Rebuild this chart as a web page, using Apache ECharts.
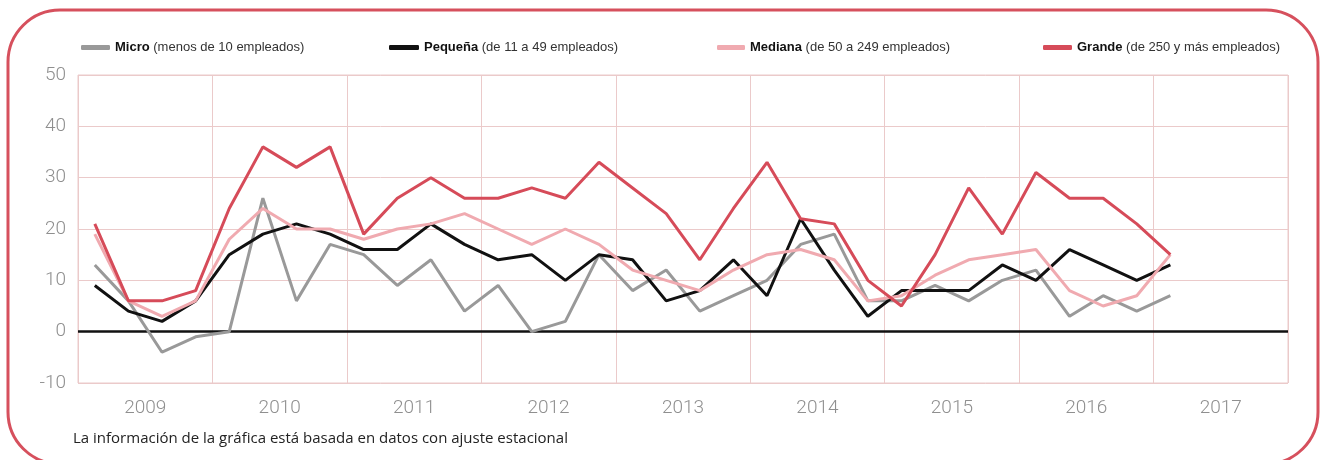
<!DOCTYPE html>
<html>
<head>
<meta charset="utf-8">
<script src="https://cdn.jsdelivr.net/npm/echarts@6/dist/echarts.min.js"></script>
<style>
  html, body { margin: 0; padding: 0; background: #fff; }
  #chart { width: 1323px; height: 460px; }
</style>
</head>
<body>
<div id="chart"></div>
<script>
// años (etiquetas) y trimestres (posiciones de los datos)
var years = ['2009', '2010', '2011', '2012', '2013', '2014', '2015', '2016', '2017'];
var quarters = [];
years.forEach(function (y) {
    for (var q = 1; q <= 4; q++) quarters.push(y + 'T' + q);
});

var micro   = [13, 6, -4, -1,  0, 26, 6, 17,  15, 9, 14, 4,  9, 0, 2, 15,  8, 12, 4, 7,  10, 17, 19, 6,  6, 9, 6, 10,  12, 3, 7, 4,  7];
var pequena = [9, 4, 2, 6,  15, 19, 21, 19,  16, 16, 21, 17,  14, 15, 10, 15,  14, 6, 8, 14,  7, 22, 12, 3,  8, 8, 8, 13,  10, 16, 13, 10,  13];
var mediana = [19, 6, 3, 6,  18, 24, 20, 20,  18, 20, 21, 23,  20, 17, 20, 17,  12, 10, 8, 12,  15, 16, 14, 6,  7, 11, 14, 15,  16, 8, 5, 7,  15];
var grande  = [21, 6, 6, 8,  24, 36, 32, 36,  19, 26, 30, 26,  26, 28, 26, 33,  28, 23, 14, 24,  33, 22, 21, 10,  5, 15, 28, 19,  31, 26, 26, 21,  15];

var yTicks = { min: -10, max: 50, interval: 10 };

var names = {
    micro: ['Micro', '(menos de 10 empleados)'],
    pequena: ['Pequeña', '(de 11 a 49 empleados)'],
    mediana: ['Mediana', '(de 50 a 249 empleados)'],
    grande: ['Grande', '(de 250 y más empleados)']
};

var colors = { micro: '#999999', pequena: '#111111', mediana: '#f0aab0', grande: '#d64b59' };
var gridColor = '#ebcaca';
var font = 'Roboto, "Liberation Sans", sans-serif';
var legendFont = '"Liberation Sans", Arial, sans-serif';

function legendFor(key, left, width) {
    return {
        data: [names[key][0]],
        left: left,
        top: 36,
        icon: 'roundRect',
        itemWidth: width,
        itemHeight: 5,
        selectedMode: false,
        formatter: function () { return '{b|' + names[key][0] + '} ' + names[key][1]; },
        textStyle: {
            fontFamily: legendFont,
            fontSize: 13,
            color: '#333',
            rich: { b: { fontWeight: 'bold', fontSize: 13, color: '#111', fontFamily: legendFont } }
        }
    };
}

function lineSeries(key, data) {
    return {
        name: names[key][0],
        type: 'line',
        xAxisIndex: 1,
        data: data,
        symbol: 'none',
        lineStyle: { color: colors[key], width: 3 },
        itemStyle: { color: colors[key] },
        z: 3
    };
}

var chart = echarts.init(document.getElementById('chart'));

var zeroSeries = lineSeries('micro', micro);
zeroSeries.markLine = {
    silent: true,
    symbol: 'none',
    label: { show: false },
    lineStyle: { color: '#111', width: 2.5, type: 'solid' },
    data: [{ yAxis: 0 }],
    z: 2
};

chart.setOption({
    animation: false,
    grid: { left: 78, right: 35, top: 75, bottom: 77, show: true, borderColor: gridColor, borderWidth: 1 },
    legend: [
        legendFor('micro', 76, 29),
        legendFor('pequena', 384, 30),
        legendFor('mediana', 712, 28),
        legendFor('grande', 1038, 29)
    ],
    xAxis: [
        {
            type: 'category',
            data: years,
            boundaryGap: true,
            axisLine: { show: false, onZero: false },
            axisTick: { show: false },
            axisLabel: { color: '#8f8f8f', fontSize: 19, fontFamily: font, fontWeight: 300, margin: 16 },
            splitLine: { show: true, lineStyle: { color: gridColor, width: 1 } }
        },
        {
            type: 'category',
            data: quarters,
            boundaryGap: true,
            show: false
        }
    ],
    yAxis: {
        type: 'value',
        min: yTicks.min,
        max: yTicks.max,
        interval: yTicks.interval,
        axisLine: { show: false },
        axisTick: { show: false },
        axisLabel: { color: '#8f8f8f', fontSize: 19, fontFamily: font, fontWeight: 300, margin: 12, padding: [0, 0, 7, 0] },
        splitLine: { lineStyle: { color: gridColor, width: 1 } }
    },
    graphic: [
        {
            type: 'rect',
            shape: { x: 8, y: 10, width: 1310, height: 454, r: 52 },
            style: { fill: 'none', stroke: '#d6505d', lineWidth: 3 },
            silent: true
        },
        {
            type: 'text',
            left: 73,
            top: 431,
            style: {
                text: 'La información de la gráfica está basada en datos con ajuste estacional',
                fill: '#222',
                font: '15px "Open Sans", "Liberation Sans", Arial, sans-serif'
            }
        }
    ],
    series: [
        zeroSeries,
        lineSeries('pequena', pequena),
        lineSeries('mediana', mediana),
        lineSeries('grande', grande)
    ]
});
</script>
</body>
</html>
